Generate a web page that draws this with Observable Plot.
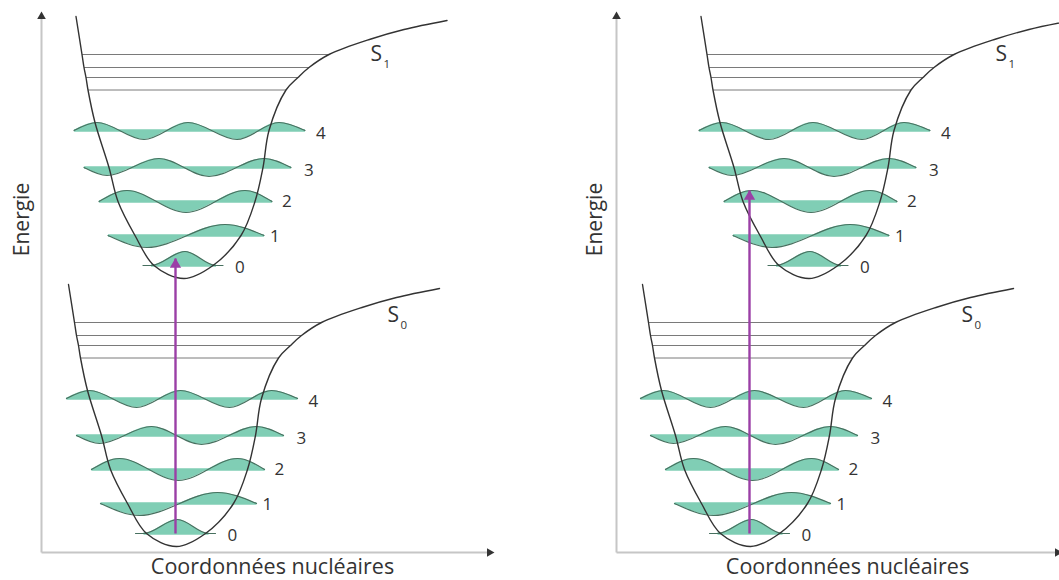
<!DOCTYPE html>
<html><head><meta charset="utf-8">
<script src="https://cdn.jsdelivr.net/npm/d3@7"></script>
<script src="https://cdn.jsdelivr.net/npm/@observablehq/plot@0.6"></script>
<style>
body{margin:0;background:#fff;}
#chart{display:flex;width:1059px;height:580px;overflow:hidden;}
#chart svg{flex:none;}
</style></head><body><div id="chart"></div>
<script>
// ---- data (arbitrary units: q = nuclear coordinate, E = energy) ----
const panels = ["A", "B"];
const axisTitleX = "Coordonnées nucléaires";
const axisTitleY = "Energie";

// potential wells: panel, state, centre coordinate, minimum energy
const wellPanel = ["A", "A", "B", "B"];
const wellState = ["S0", "S1", "S0", "S1"];
const wellCenterQ = [138, 145.5, 137, 195.5];
const wellMinE = [6, 274, 6, 274];

// shape of each potential curve, relative to the well centre / minimum
const potentialQ = [-111, -105, -103, -101, -99, -92, -78, -69, -52, -33, -3, 26, 54, 68, 76, 82, 99, 111, 122, 142, 184, 217, 260];
const potentialE = [262, 224, 211, 201, 188.5, 156, 111, 77, 43, 13, 0, 13, 43, 77, 111, 148, 188.5, 201, 211, 224, 239.5, 249, 258];

// upper vibrational levels drawn as plain lines
const overtoneE = [224, 211, 201, 188.5];
const overtoneLeft = [-105, -103, -101, -99];
const overtoneRight = [142, 122, 111, 99];

// vibrational levels 0-4 with their wavefunctions
const vibLevel = ["0", "1", "2", "3", "4"];
const vibBaseE = [13, 43, 77, 111, 148];
const waveQ = [
  [-44, -36, -2, 29, 36],
  [-79, -40, 38, 77],
  [-88, -60, -1, 58, 85],
  [-103, -80, -28, 22, 77, 104],
  [-113, -90, -43, 1, 50, 92, 118]
];
const waveE = [
  [13, 13, 27, 13, 13],
  [43, 31, 54, 43],
  [77, 88, 66, 88, 77],
  [111, 103, 120, 102, 120, 111],
  [148, 156, 139, 156, 139, 156, 148]
];
const fillStartQ = [-36, -79, -88, -103, -113];
const fillEndQ = [29, 77, 85, 104, 118];
const levelLabelQ = [48, 83, 95, 117, 129];
const levelLabelE = [11, 42, 77, 108, 145];

// state labels S0 / S1
const stateName = ["S0", "S1"];
const stateSub = ["0", "1"];
const stateLabelQ = [208, 183.5];
const stateLabelE = [231.5, 224.5];

// vertical (absorption) transitions
const transPanel = ["A", "B"];
const transQ = [134, 133];
const transFromE = [19, 19];
const transToE = [294, 362];

// axes
const axisTopE = [536, 536];
const axisEndQ = [448, 441];

// ---- styles ----
const teal = "#80ceb5", waveStroke = "#47705f", curveStroke = "#333333",
      levelStroke = "#7a7a7a", axisStroke = "#c6c6c6", purple = "#9b3fa6",
      textColor = "#333333", font = "Open Sans";

function panelData(p) {
  const potential = [], overtones = [], waves = [], bands = [], levelLabels = [], stateLabels = [];
  wellPanel.forEach((wp, w) => {
    if (wp !== p) return;
    const qc = wellCenterQ[w], e0 = wellMinE[w];
    potentialQ.forEach((q, i) => potential.push({well: w, q: qc + q, E: e0 + potentialE[i]}));
    overtoneE.forEach((e, i) => overtones.push({q1: qc + overtoneLeft[i], q2: qc + overtoneRight[i], E: e0 + e}));
    vibLevel.forEach((lv, l) => {
      waveQ[l].forEach((q, i) => waves.push({key: w + "-" + l, q: qc + q, E: e0 + waveE[l][i], base: e0 + vibBaseE[l]}));
      bands.push({q1: qc + fillStartQ[l], q2: qc + fillEndQ[l], E: e0 + vibBaseE[l]});
      levelLabels.push({q: qc + levelLabelQ[l], E: e0 + levelLabelE[l], text: lv});
    });
    const s = stateName.indexOf(wellState[w]);
    stateLabels.push({q: qc + stateLabelQ[s], E: e0 + stateLabelE[s], sub: stateSub[s]});
  });
  const pi = panels.indexOf(p);
  const trans = transPanel.map((tp, i) => ({tp, q: transQ[i], E1: transFromE[i], E2: transToE[i]})).filter(d => d.tp === p);
  const axes = [
    {q1: 0, E1: 0, q2: 0, E2: axisTopE[pi]},
    {q1: 0, E1: 0, q2: axisEndQ[pi], E2: 0}
  ];
  const heads = [{q: 0, E: axisTopE[pi], rot: 0}, {q: axisEndQ[pi], E: 0, rot: 90}];
  return {potential, overtones, waves, bands, levelLabels, stateLabels, trans, axes, heads};
}

function draw(p, width, marginRight) {
  const d = panelData(p);
  return Plot.plot({
    width, height: 580,
    marginLeft: 41, marginRight, marginTop: 16, marginBottom: 28,
    x: {domain: [0, 443], axis: null},
    y: {domain: [0, 536], axis: null},
    style: {fontFamily: font, color: textColor, background: "transparent", overflow: "visible"},
    marks: [
      Plot.link(d.axes, {x1: "q1", y1: "E1", x2: "q2", y2: "E2", stroke: axisStroke, strokeWidth: 2}),
      Plot.dot(d.heads, {x: "q", y: "E", symbol: "triangle", r: 3.2, fill: "#333", stroke: null, rotate: "rot"}),
      Plot.link(d.overtones, {x1: "q1", x2: "q2", y1: "E", y2: "E", stroke: levelStroke, strokeWidth: 1}),
      Plot.areaY(d.waves, {x: "q", y1: "base", y2: "E", z: "key", fill: teal, curve: "monotone-x"}),
      Plot.link(d.bands, {x1: "q1", x2: "q2", y1: "E", y2: "E", stroke: teal, strokeWidth: 2.5}),
      Plot.line(d.waves, {x: "q", y: "E", z: "key", stroke: waveStroke, strokeWidth: 1.2, curve: "monotone-x"}),
      Plot.line(d.potential, {x: "q", y: "E", z: "well", stroke: curveStroke, strokeWidth: 1.4, curve: "catmull-rom"}),
      Plot.link(d.trans, {x1: "q", x2: "q", y1: "E1", y2: "E2", stroke: purple, strokeWidth: 2.4}),
      Plot.dot(d.trans, {x: "q", y: "E2", symbol: "triangle", r: 4.2, fill: purple, stroke: null, dy: 6}),
      Plot.text(d.levelLabels, {x: "q", y: "E", text: "text", textAnchor: "start", fontSize: 17, fill: textColor}),
      Plot.text(d.stateLabels, {x: "q", y: "E", text: () => "S", textAnchor: "start", fontSize: 21, fill: textColor}),
      Plot.text(d.stateLabels, {x: "q", y: "E", text: "sub", textAnchor: "start", fontSize: 11.5, dx: 13, dy: 10, fill: textColor}),
      Plot.text([axisTitleX], {x: () => 231, y: () => -15, text: d => d, fontSize: 21.5, fill: textColor}),
      Plot.text([axisTitleY], {x: () => (p === "A" ? -19 : -21), y: () => 333, text: d => d, rotate: -90, fontSize: 21, fill: textColor})
    ]
  });
}

const chart = document.getElementById("chart");
chart.appendChild(draw("A", 575, 91));
chart.appendChild(draw("B", 484, 0));
</script></body></html>
